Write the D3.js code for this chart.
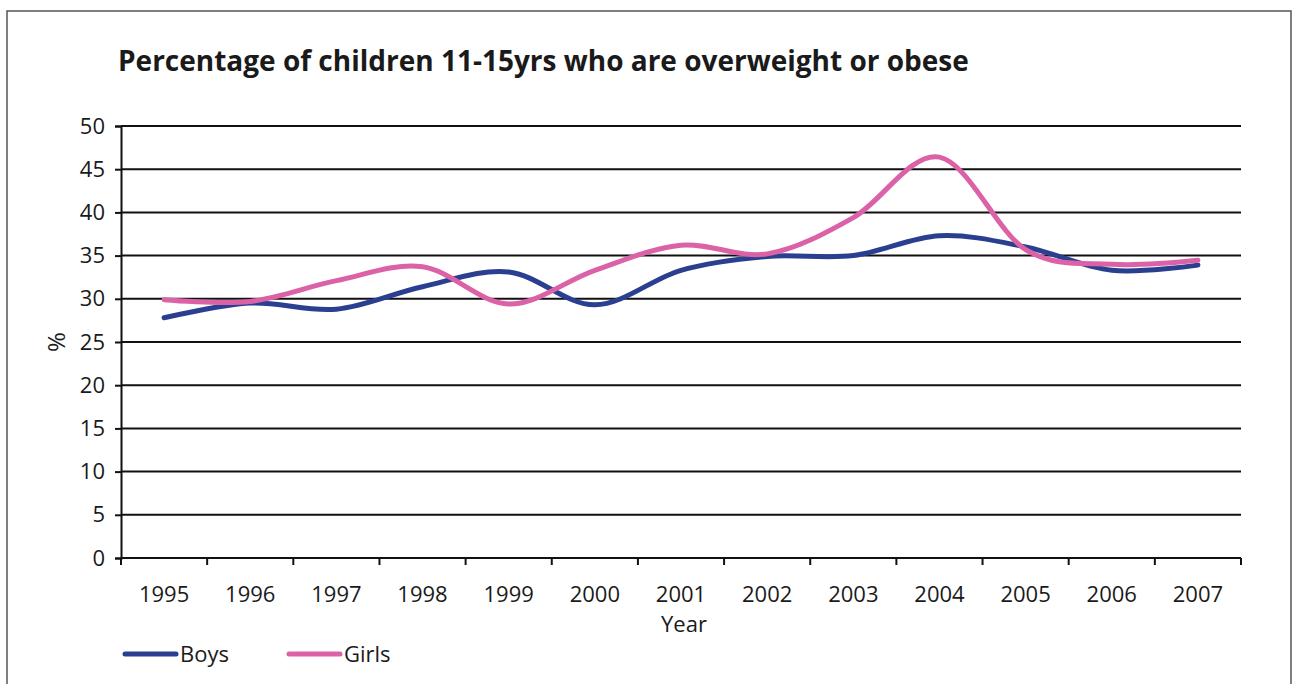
<!DOCTYPE html>
<html>
<head>
<meta charset="utf-8">
<script src="https://cdn.jsdelivr.net/npm/d3@7"></script>
<style>
  body { margin: 0; background: #fff; }
  text { font-family: "Open Sans", "DejaVu Sans", sans-serif; fill: #1a1a1a; }
</style>
</head>
<body>
<div id="chart"></div>
<script>
// values
var years = ["1995", "1996", "1997", "1998", "1999", "2000", "2001", "2002", "2003", "2004", "2005", "2006", "2007"];
var boys  = [27.8, 29.5, 28.8, 31.4, 33.1, 29.3, 33.3, 34.9, 35.0, 37.3, 36.0, 33.3, 33.9];
var girls = [29.9, 29.7, 32.1, 33.7, 29.4, 33.3, 36.2, 35.2, 39.4, 46.4, 35.7, 34.0, 34.45];
var yTicks = [0, 5, 10, 15, 20, 25, 30, 35, 40, 45, 50];

var series = [
  { name: "Boys", values: boys, color: "#2b3f91" },
  { name: "Girls", values: girls, color: "#dc62a8" }
];

var W = 1293, H = 684;
var margin = { top: 126, right: 52, bottom: 126, left: 121 },
  width = W - margin.left - margin.right,
  height = H - margin.top - margin.bottom;

var root = d3.select("#chart").append("svg")
  .attr("width", W)
  .attr("height", H);

// outer frame
root.append("rect")
  .attr("x", 7).attr("y", 11)
  .attr("width", 1284).attr("height", 700)
  .attr("fill", "none")
  .attr("stroke", "#555")
  .attr("stroke-width", 1.5);

root.append("text")
  .attr("x", 118).attr("y", 71)
  .style("font-size", "28px")
  .style("font-weight", "bold")
  .text("Percentage of children 11-15yrs who are overweight or obese");

var svg = root.append("g")
  .attr("transform", "translate(" + margin.left + "," + margin.top + ")");

var x = d3.scaleBand().domain(years).range([0, width]);
var y = d3.scaleLinear().domain([0, 50]).range([height, 0]);

// gridlines
svg.append("g")
  .selectAll("line")
  .data(yTicks.filter(function (d) { return d > 0; }))
  .enter().append("line")
  .attr("x1", 0).attr("x2", width)
  .attr("y1", function (d) { return y(d); })
  .attr("y2", function (d) { return y(d); })
  .attr("stroke", "#111")
  .attr("stroke-width", 2);

// y axis
var yAxis = svg.append("g")
  .call(d3.axisLeft(y).tickValues(yTicks).tickSize(6).tickPadding(10));
yAxis.select(".domain").attr("stroke", "#111").attr("stroke-width", 2);
yAxis.selectAll(".tick line").attr("stroke", "#111").attr("stroke-width", 2);
yAxis.selectAll(".tick text").style("font-size", "22px").attr("fill", "#1a1a1a");

// x axis: ticks sit between the categories
var xAxis = svg.append("g")
  .attr("transform", "translate(0," + height + ")");
xAxis.append("line")
  .attr("x1", 0).attr("x2", width)
  .attr("stroke", "#111").attr("stroke-width", 2);
xAxis.selectAll(".xt")
  .data(years.concat(["end"]))
  .enter().append("line")
  .attr("class", "xt")
  .attr("x1", function (d, i) { return i * x.step(); })
  .attr("x2", function (d, i) { return i * x.step(); })
  .attr("y1", 0).attr("y2", 7)
  .attr("stroke", "#111").attr("stroke-width", 2);
xAxis.selectAll(".xl")
  .data(years)
  .enter().append("text")
  .attr("class", "xl")
  .attr("x", function (d) { return x(d) + x.bandwidth() / 2; })
  .attr("y", 44)
  .attr("text-anchor", "middle")
  .style("font-size", "22px")
  .text(function (d) { return d; });

svg.append("text")
  .attr("x", width / 2 + 3).attr("y", height + 74)
  .attr("text-anchor", "middle")
  .style("font-size", "22px")
  .text("Year");

svg.append("text")
  .attr("transform", "translate(-56," + (y(25)) + ") rotate(-90)")
  .attr("text-anchor", "middle")
  .style("font-size", "24px")
  .text("%");

// smoothed lines
var line = d3.line()
  .x(function (d, i) { return x(years[i]) + x.bandwidth() / 2; })
  .y(function (d) { return y(d); })
  .curve(d3.curveCatmullRom.alpha(0));

svg.selectAll(".series")
  .data(series)
  .enter().append("path")
  .attr("class", "series")
  .attr("d", function (d) { return line(d.values); })
  .attr("fill", "none")
  .attr("stroke", function (d) { return d.color; })
  .attr("stroke-width", 5)
  .attr("stroke-linecap", "round");

// legend
var legend = root.append("g").attr("transform", "translate(123,654)");
var lg = legend.selectAll("g")
  .data(series)
  .enter().append("g")
  .attr("transform", function (d, i) { return "translate(" + (i * 164) + ",0)"; });
lg.append("line")
  .attr("x1", 2).attr("x2", 53)
  .attr("stroke", function (d) { return d.color; })
  .attr("stroke-width", 5)
  .attr("stroke-linecap", "round");
lg.append("text")
  .attr("x", 57).attr("y", 8)
  .style("font-size", "22px")
  .text(function (d) { return d.name; });
</script>
</body>
</html>
